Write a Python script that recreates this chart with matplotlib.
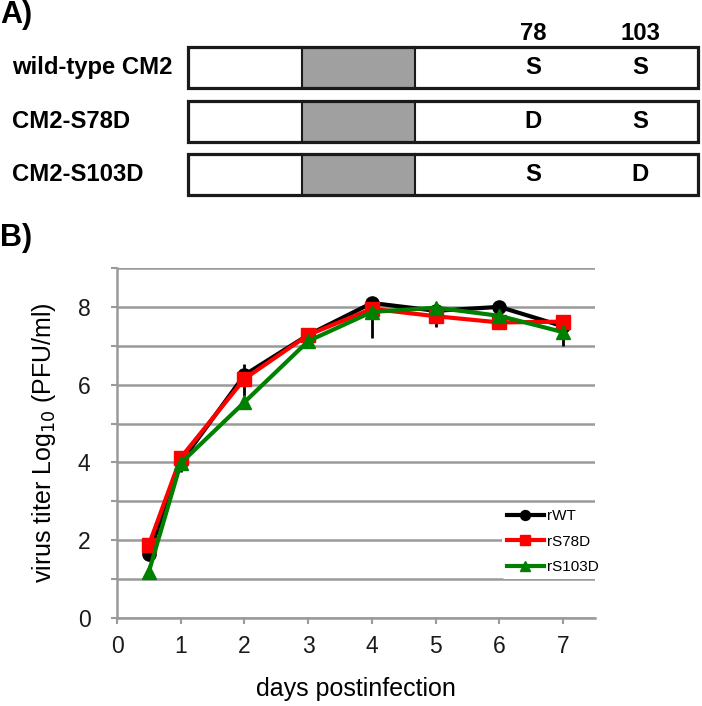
import matplotlib
matplotlib.use("Agg")
import matplotlib.pyplot as plt
from matplotlib.patches import Rectangle

plt.rcParams['font.family'] = ['Liberation Sans', 'DejaVu Sans']

# ---- Panel A data ----
constructs = ["wild-type CM2", "CM2-S78D", "CM2-S103D"]
res78 = ["S", "D", "S"]
res103 = ["S", "S", "D"]
site_labels = ["78", "103"]

# ---- Panel B data ----
days = [0.5, 1, 2, 3, 4, 5, 6, 7]
rWT = [1.65, 4.0, 6.25, 7.28, 8.1, 7.9, 8.0, 7.5]
rS78D = [1.88, 4.12, 6.15, 7.28, 7.95, 7.76, 7.6, 7.62]
rS103D = [1.19, 3.98, 5.55, 7.12, 7.87, 7.98, 7.77, 7.35]
wt_err_low = [0.15, 0.25, 0.55, 0.0, 0.9, 0.42, 0.0, 0.5]
wt_err_up = [0.0, 0.0, 0.28, 0.0, 0.0, 0.0, 0.0, 0.0]
xticks = [0, 1, 2, 3, 4, 5, 6, 7]
yticks = [0, 2, 4, 6, 8]

W, H = 702, 706
fig = plt.figure(figsize=(W / 100, H / 100), dpi=100)

# ---------- Panel A ----------
topH = 212
axA = fig.add_axes([0, 1 - topH / H, 1, topH / H])
axA.set_xlim(0, W)
axA.set_ylim(topH, 0)
axA.axis('off')
axA.text(0, 15, "A)", fontsize=22, fontweight='bold', va='center', ha='left')
box_l, box_r, gray_l, gray_r = 188, 698, 302, 415
x78, x103 = 533, 640
row_tops = [47, 101, 154]
bh = 41
fs = 17.2
for sx, lab in zip([x78, x103], site_labels):
    axA.text(sx, 33, lab, fontsize=fs, fontweight='bold', ha='center', va='center')
for top, name, a, b in zip(row_tops, constructs, res78, res103):
    axA.add_patch(Rectangle((gray_l, top), gray_r - gray_l, bh, facecolor='#a0a0a0',
                            edgecolor='none'))
    axA.add_patch(Rectangle((box_l, top), box_r - box_l, bh, facecolor='none',
                            edgecolor='#1a1a1a', lw=2.3))
    axA.plot([gray_l, gray_l], [top, top + bh], color='#1a1a1a', lw=1.5)
    axA.plot([gray_r, gray_r], [top, top + bh], color='#1a1a1a', lw=1.5)
    cy = top + bh / 2
    axA.text(12, cy, name, fontsize=fs, fontweight='bold', ha='left', va='center')
    axA.text(x78, cy, a, fontsize=fs, fontweight='bold', ha='center', va='center')
    axA.text(x103, cy, b, fontsize=fs, fontweight='bold', ha='center', va='center')

fig.text(0, 1 - 238 / H, "B)", fontsize=22, fontweight='bold', va='center', ha='left')

# ---------- Panel B ----------
left, right, top, bottom = 117, 595, 268, 618
ax = fig.add_axes([left / W, 1 - bottom / H, (right - left) / W, (bottom - top) / H])
ax.set_xlim(0, 7.5)
ax.set_ylim(0, 9)
gridc = '#9a9a9a'
ax.set_yticks(range(0, 10))
ax.set_yticklabels([str(v) if v in yticks else '' for v in range(0, 10)])
ax.set_xticks(xticks)
ax.yaxis.grid(True, color=gridc, lw=1.8)
ax.set_axisbelow(True)
for s in ['top', 'right']:
    ax.spines[s].set_visible(False)
for s in ['left', 'bottom']:
    ax.spines[s].set_color(gridc)
    ax.spines[s].set_linewidth(1.8)
ax.tick_params(axis='both', colors=gridc, width=1.5, length=4, labelsize=16.5,
               labelcolor='#1a1a1a')
ax.tick_params(axis='x', pad=8)
ax.tick_params(axis='y', pad=15)

ax.errorbar(days, rWT, yerr=[wt_err_low, wt_err_up], fmt='none', ecolor='black',
            elinewidth=2, capsize=0, zorder=2)
ax.plot(days, rWT, color='black', marker='o', ms=9.5, lw=3, label='rWT', zorder=3)
ax.plot(days, rS78D, color='#ff0000', marker='s', ms=9.5, lw=3, label='rS78D', zorder=4)
ax.plot(days, rS103D, color='#008000', marker='^', ms=9.5, lw=3, label='rS103D', zorder=5)

leg = ax.legend(loc='lower left', bbox_to_anchor=(0.79, 0.09), frameon=True,
                framealpha=1, edgecolor='none', fontsize=11, handlelength=2.4,
                markerscale=0.75, borderpad=0.3, labelspacing=0.75, handletextpad=0.2)
leg.get_frame().set_facecolor('white')

ax.set_xlabel("days postinfection", fontsize=18, labelpad=14)
ax.set_ylabel(r"virus titer Log$_{10}$ (PFU/ml)", fontsize=18, labelpad=14)

fig.savefig("out.png", dpi=100)
